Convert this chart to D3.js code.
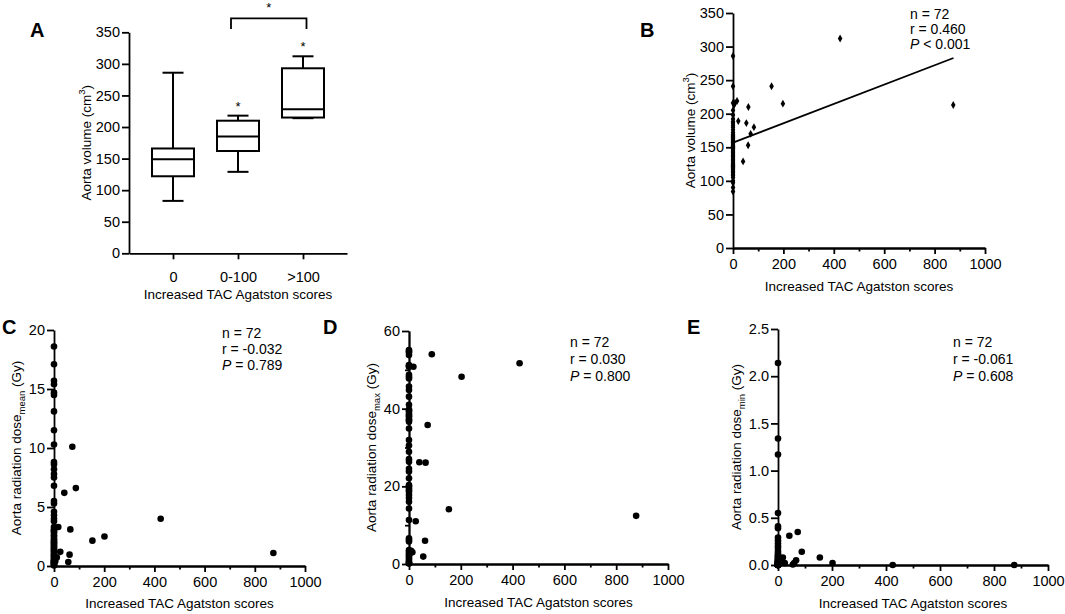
<!DOCTYPE html>
<html>
<head>
<meta charset="utf-8">
<script src="https://cdn.jsdelivr.net/npm/d3@7"></script>
<style>
  body { margin: 0; background: #fff; }
  text { font-family: "Liberation Sans", Arial, sans-serif; fill: #000; }
</style>
</head>
<body>
<div id="figure"></div>
<script>
// ---- values ----

// panel A: aorta volume (cm3) box plots per TAC score group
var groups = ["0", "0-100", ">100"];
var volMin = [83, 129, 214];
var volQ1 = [122, 162, 215];
var volMed = [149, 185, 228];
var volQ3 = [166, 210, 293];
var volMax = [286, 218, 312];
var groupStars = ["", "*", "*"];
var sigPairs = [[1, 2]];
var volTicks = [0, 50, 100, 150, 200, 250, 300, 350];

// shared x axis of the scatter panels
var scoreTicks = [0, 200, 400, 600, 800, 1000];
var scoreMinor = [100, 300, 500, 700, 900];

// panel B: aorta volume vs increased score
var bZero = [286, 241, 216, 205, 198, 192, 188, 186, 183, 180, 176, 172, 169, 167, 166,
  165, 163, 161, 160, 158, 157, 155, 153, 152, 151, 150, 149, 148, 146, 144, 142, 140,
  138, 136, 134, 132, 130, 128, 126, 124, 123, 122, 121, 120, 118, 116, 114, 112, 110,
  108, 105, 100, 97, 90, 84];
var bScored = [[4, 213], [8, 216], [16, 219], [21, 189], [53, 186], [61, 210], [83, 180],
  [70, 170], [60, 153], [40, 129], [153, 241], [198, 215], [425, 312], [874, 213]];
var bFit = [[0, 157], [875, 283]];
var bStats = ["72", "0.460", "< 0.001"];

// panel C: mean dose (Gy)
var cZero = [18.6, 17.1, 15.7, 15.4, 14.7, 14.5, 13.1, 11.5, 10.3, 8.8, 8.6, 8.2, 7.8, 7.5,
  6.8, 5.5, 5.3, 4.6, 4.3, 4.0, 3.8, 3.3, 3.1, 3.0, 2.9, 2.8, 2.6, 2.5, 2.3, 2.2, 2.1, 2.0,
  1.9, 1.8, 1.7, 1.6, 1.5, 1.4, 1.3, 1.2, 1.1, 1.0, 0.9, 0.8, 0.7, 0.6, 0.5, 0.45, 0.4,
  0.35, 0.3, 0.25, 0.2, 0.15, 0.1, 0.05];
var cScored = [[5, 0.4], [11, 0.73], [17, 3.3], [25, 1.2], [41, 6.2], [57, 0.34], [62, 0.96],
  [65, 3.1], [73, 10.1], [87, 6.6], [153, 2.15], [201, 2.5], [425, 4.0], [874, 1.1]];
var cTicks = [0, 5, 10, 15, 20];
var cStats = ["72", "-0.032", "= 0.789"];

// panel D: max dose (Gy)
var dZero = [55.1, 54.8, 54.5, 53.8, 51.2, 51.0, 50.8, 48.7, 48.2, 47.8, 45.7, 44.8, 43.1,
  41.0, 39.8, 39.5, 39.2, 38.6, 38.2, 37.9, 37.3, 37.0, 36.6, 34.9, 31.9, 30.5, 28.9, 27.0,
  26.3, 24.5, 23.8, 22.1, 20.3, 20.0, 19.5, 19.0, 18.6, 17.8, 17.0, 16.0, 14.3, 11.3, 6.6,
  6.2, 5.8, 3.6, 3.2, 2.7, 2.3, 1.9, 1.5, 1.0, 0.6, 0.4, 0.2, 0.1];
var dScored = [[8, 3.4], [13, 3.0], [17, 50.8], [26, 11.0], [40, 26.2], [55, 1.9], [62, 6.0],
  [64, 26.1], [72, 35.8], [88, 54.0], [154, 14.1], [203, 48.2], [427, 51.7], [877, 12.4]];
var dTicks = [0, 20, 40, 60];
var dMinor = [10, 30, 50];
var dStats = ["72", "0.030", "= 0.800"];

// panel E: min dose (Gy)
var eZero = [2.14, 1.34, 1.17, 0.55, 0.41, 0.39, 0.29, 0.26, 0.23, 0.2, 0.18, 0.15, 0.13,
  0.11, 0.1, 0.09, 0.08, 0.07, 0.06, 0.05, 0.05, 0.04, 0.04, 0.03, 0.03, 0.02, 0.02, 0.02,
  0.01, 0.01, 0.01, 0.01, 0, 0, 0, 0, 0, 0, 0, 0, 0, 0, 0, 0, 0, 0, 0, 0, 0, 0, 0, 0, 0,
  0, 0, 0];
var eScored = [[8, 0.03], [12, 0.05], [18, 0.08], [25, 0.02], [42, 0.31], [55, 0.005],
  [60, 0.02], [67, 0.05], [73, 0.35], [88, 0.14], [155, 0.08], [202, 0.02], [425, 0], [875, 0]];
var eTicks = [0, 0.5, 1, 1.5, 2, 2.5];
var eStats = ["72", "-0.061", "= 0.608"];

var xTitle = "Increased TAC Agatston scores";

// ---- drawing ----
var svg = d3.select("#figure").append("svg")
    .attr("width", 1065)
    .attr("height", 614);

function styleAxis(g) {
  g.attr("font-family", null).attr("font-size", null);
  g.selectAll("path, line").attr("stroke", "#000").attr("stroke-width", 1.8);
  g.selectAll("text").style("font-size", "14.5px").attr("fill", "#000");
}

function panelLetter(letter, x, y) {
  svg.append("text")
    .attr("x", x).attr("y", y)
    .style("font-size", "20px")
    .style("font-weight", "bold")
    .text(letter);
}

function bottomTitle(cx, y) {
  svg.append("text")
    .attr("x", cx).attr("y", y)
    .attr("text-anchor", "middle")
    .style("font-size", "13.5px")
    .text(xTitle);
}

// rotated y title; parts = [[text, "sub"|"sup"|null], ...]
function leftTitle(x, cy, parts) {
  var t = svg.append("text")
    .attr("transform", "translate(" + x + "," + cy + ") rotate(-90)")
    .attr("text-anchor", "middle")
    .style("font-size", "13.5px");
  var shift = 0;
  parts.forEach(function(p) {
    var dy = 0;
    if (p[1] == "sub") dy = 4;
    if (p[1] == "sup") dy = -6;
    var s = t.append("tspan")
      .attr("dy", dy - shift)
      .text(p[0]);
    if (p[1]) s.style("font-size", "9.5px");
    shift = dy;
  });
}

function statsBlock(x, y, step, stats) {
  var t = svg.append("text").style("font-size", "14px");
  t.append("tspan").attr("x", x).attr("y", y).text("n = " + stats[0]);
  t.append("tspan").attr("x", x).attr("y", y + step).text("r = " + stats[1]);
  var l3 = t.append("tspan").attr("x", x).attr("y", y + 2 * step);
  l3.append("tspan").style("font-style", "italic").text("P");
  l3.append("tspan").text(" " + stats[2]);
}

// Panel A
(function() {
  var left = 129, right = 347, top = 32.3, bottom = 253.3;
  var x = d3.scalePoint().domain(groups).range([left, right]).padding(0.677);
  var y = d3.scaleLinear().domain([0, 350]).range([bottom, top]);
  var boxW = 42, capW = 21;

  svg.append("g")
    .attr("transform", "translate(0," + bottom + ")")
    .call(d3.axisBottom(x).tickSize(6).tickSizeOuter(0).tickPadding(12))
    .call(styleAxis);
  svg.append("g")
    .attr("transform", "translate(" + left + ",0)")
    .call(d3.axisLeft(y).tickValues(volTicks).tickSize(7).tickSizeOuter(0).tickPadding(2))
    .call(styleAxis);

  var box = svg.selectAll("g.box")
    .data(groups)
    .enter()
    .append("g")
      .attr("class", "box")
      .attr("stroke", "#000")
      .attr("stroke-width", 2)
      .attr("fill", "none");

  // whiskers
  box.append("line")
    .attr("x1", function(d) { return x(d); })
    .attr("x2", function(d) { return x(d); })
    .attr("y1", function(d, i) { return y(volMin[i]); })
    .attr("y2", function(d, i) { return y(volQ1[i]); });
  box.append("line")
    .attr("x1", function(d) { return x(d); })
    .attr("x2", function(d) { return x(d); })
    .attr("y1", function(d, i) { return y(volQ3[i]); })
    .attr("y2", function(d, i) { return y(volMax[i]); });
  // caps
  box.append("line")
    .attr("x1", function(d) { return x(d) - capW / 2; })
    .attr("x2", function(d) { return x(d) + capW / 2; })
    .attr("y1", function(d, i) { return y(volMin[i]); })
    .attr("y2", function(d, i) { return y(volMin[i]); });
  box.append("line")
    .attr("x1", function(d) { return x(d) - capW / 2; })
    .attr("x2", function(d) { return x(d) + capW / 2; })
    .attr("y1", function(d, i) { return y(volMax[i]); })
    .attr("y2", function(d, i) { return y(volMax[i]); });
  // box and median
  box.append("rect")
    .attr("x", function(d) { return x(d) - boxW / 2; })
    .attr("width", boxW)
    .attr("y", function(d, i) { return y(volQ3[i]); })
    .attr("height", function(d, i) { return y(volQ1[i]) - y(volQ3[i]); });
  box.append("line")
    .attr("x1", function(d) { return x(d) - boxW / 2; })
    .attr("x2", function(d) { return x(d) + boxW / 2; })
    .attr("y1", function(d, i) { return y(volMed[i]); })
    .attr("y2", function(d, i) { return y(volMed[i]); });

  // stars over the whiskers
  svg.selectAll("text.star")
    .data(groups)
    .enter()
    .append("text")
      .attr("class", "star")
      .attr("x", function(d) { return x(d); })
      .attr("y", function(d, i) { return y(volMax[i]) - 5; })
      .attr("text-anchor", "middle")
      .style("font-size", "13px")
      .text(function(d, i) { return groupStars[i]; });

  // significance bracket
  sigPairs.forEach(function(p) {
    var x1 = x(groups[p[0]]) - 7, x2 = x(groups[p[1]]) + 3.5;
    svg.append("path")
      .attr("d", "M" + x1 + ",29V18.3H" + x2 + "V29")
      .attr("fill", "none")
      .attr("stroke", "#000")
      .attr("stroke-width", 1.8);
    svg.append("text")
      .attr("x", (x1 + x2) / 2).attr("y", 11.5)
      .attr("text-anchor", "middle")
      .style("font-size", "13px")
      .text("*");
  });

  panelLetter("A", 30, 37);
  leftTitle(91, (top + bottom) / 2, [["Aorta volume (cm", null], ["3", "sup"], [")", null]]);
  bottomTitle((left + right) / 2, 299);
})();

// scatter panels
function scatter(opt) {
  var x = d3.scaleLinear().domain([0, 1000]).range([opt.left, opt.right]);
  var y = d3.scaleLinear().domain([0, opt.yTicks[opt.yTicks.length - 1]]).range([opt.bottom, opt.top]);

  svg.append("g")
    .attr("transform", "translate(0," + opt.bottom + ")")
    .call(d3.axisBottom(x).tickValues(scoreTicks).tickFormat(d3.format("d"))
      .tickSize(6).tickSizeOuter(0).tickPadding(5))
    .call(styleAxis);
  svg.append("g")
    .attr("transform", "translate(0," + opt.bottom + ")")
    .call(d3.axisBottom(x).tickValues(scoreMinor).tickFormat("").tickSize(3.5).tickSizeOuter(0))
    .call(styleAxis);
  svg.append("g")
    .attr("transform", "translate(" + opt.left + ",0)")
    .call(d3.axisLeft(y).tickValues(opt.yTicks).tickFormat(opt.fmt || d3.format("d"))
      .tickSize(7).tickSizeOuter(0).tickPadding(2))
    .call(styleAxis);
  if (opt.yMinor) {
    svg.append("g")
      .attr("transform", "translate(" + opt.left + ",0)")
      .call(d3.axisLeft(y).tickValues(opt.yMinor).tickFormat("").tickSize(4).tickSizeOuter(0))
      .call(styleAxis);
  }

  var pts = opt.zero.map(function(v) { return [0, v]; }).concat(opt.scored);

  if (opt.fit) {
    svg.append("line")
      .attr("x1", x(opt.fit[0][0])).attr("y1", y(opt.fit[0][1]))
      .attr("x2", x(opt.fit[1][0])).attr("y2", y(opt.fit[1][1]))
      .attr("stroke", "#000")
      .attr("stroke-width", 1.8);
  }

  if (opt.diamond) {
    svg.append("g")
      .selectAll("path")
      .data(pts)
      .enter()
      .append("path")
        .attr("d", d3.symbol(d3.symbolDiamond, 18))
        .attr("transform", function(d) { return "translate(" + x(d[0]) + "," + y(d[1]) + ")"; })
        .attr("fill", "#000");
  } else {
    svg.append("g")
      .selectAll("circle")
      .data(pts)
      .enter()
      .append("circle")
        .attr("cx", function(d) { return x(d[0]); })
        .attr("cy", function(d) { return y(d[1]); })
        .attr("r", 3.3)
        .attr("fill", "#000");
  }

  panelLetter(opt.letter, opt.letterX, opt.letterY);
  leftTitle(opt.titleX, (opt.top + opt.bottom) / 2, opt.yTitle);
  bottomTitle((opt.left + opt.right) / 2, opt.titleY);
  statsBlock(opt.statX, opt.statY, opt.statStep, opt.stats);
}

scatter({
  left: 733, right: 985, top: 13, bottom: 248,
  yTicks: volTicks, zero: bZero, scored: bScored, fit: bFit, diamond: true,
  letter: "B", letterX: 640, letterY: 37,
  titleX: 695, titleY: 291,
  yTitle: [["Aorta volume (cm", null], ["3", "sup"], [")", null]],
  stats: bStats, statX: 910, statY: 19, statStep: 15
});

scatter({
  left: 54, right: 305, top: 330, bottom: 566,
  yTicks: cTicks, zero: cZero, scored: cScored,
  letter: "C", letterX: 2, letterY: 334,
  titleX: 21, titleY: 608,
  yTitle: [["Aorta radiation dose", null], ["mean", "sub"], [" (Gy)", null]],
  stats: cStats, statX: 222, statY: 338, statStep: 16
});

scatter({
  left: 409, right: 668, top: 331, bottom: 564,
  yTicks: dTicks, yMinor: dMinor, zero: dZero, scored: dScored,
  letter: "D", letterX: 323, letterY: 334,
  titleX: 376, titleY: 607,
  yTitle: [["Aorta radiation dose", null], ["max", "sub"], [" (Gy)", null]],
  stats: dStats, statX: 570, statY: 347, statStep: 17
});

scatter({
  left: 778, right: 1048, top: 329, bottom: 565,
  yTicks: eTicks, fmt: d3.format(".1f"), zero: eZero, scored: eScored,
  letter: "E", letterX: 687, letterY: 334,
  titleX: 741, titleY: 608,
  yTitle: [["Aorta radiation dose", null], ["min", "sub"], [" (Gy)", null]],
  stats: eStats, statX: 953, statY: 347, statStep: 17
});
</script>
</body>
</html>
